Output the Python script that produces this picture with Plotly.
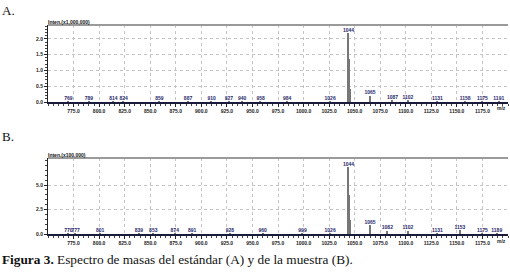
import plotly.graph_objects as go

# ---------------- data ----------------
# Panel A (standard), intensity in units of 1,000,000
a_mz = [770, 790, 814, 824, 859, 887, 910, 927, 940, 958, 984, 1026,
        1044, 1045, 1046, 1065, 1087, 1102, 1131, 1158, 1175, 1191]
a_int = [0.02, 0.02, 0.02, 0.02, 0.02, 0.02, 0.02, 0.02, 0.02, 0.02, 0.02, 0.02,
         2.18, 1.35, 0.42, 0.20, 0.06, 0.04, 0.02, 0.02, 0.02, 0.02]
a_lbl = ["769", "789", "814", "824", "859", "887", "910", "927", "940", "958", "984", "1026",
         "1044", "", "", "1065", "1087", "1102", "1131", "1158", "1175", "1191"]

# Panel B (sample), intensity in units of 100,000
b_mz = [770, 777, 801, 839, 853, 874, 891, 928, 960, 999, 1026,
        1044, 1045, 1046, 1065, 1082, 1102, 1131, 1153, 1175, 1189]
b_int = [0.1, 0.1, 0.1, 0.1, 0.1, 0.1, 0.1, 0.1, 0.1, 0.1, 0.1,
         6.8, 4.0, 1.4, 0.9, 0.35, 0.35, 0.1, 0.4, 0.1, 0.1]
b_lbl = ["770", "777", "801", "839", "853", "874", "891", "928", "960", "999", "1026",
         "1044", "", "", "1065", "1082", "1102", "1131", "1153", "1175", "1189"]

x_ticks = [775, 800, 825, 850, 875, 900, 925, 950, 975, 1000, 1025, 1050,
           1075, 1100, 1125, 1150, 1175]
x_tick_text = [f"{v:.1f}" for v in x_ticks]
a_yticks = [0.0, 0.5, 1.0, 1.5, 2.0]
b_yticks = [0.0, 2.5, 5.0]

NAVY = "#28286a"
PEAK = "#777777"

fig = go.Figure()

def add_panel(mz, inten, lbl, xa, ya):
    fig.add_trace(go.Bar(x=mz, y=inten, width=1.3, marker=dict(color=PEAK, line=dict(width=0)),
                         xaxis=xa, yaxis=ya, showlegend=False))
    fig.add_trace(go.Scatter(x=mz, y=inten, mode="text", text=lbl, textposition="top center",
                             textfont=dict(size=5, color=NAVY, family="Liberation Sans", weight="bold"),
                             xaxis=xa, yaxis=ya, showlegend=False, cliponaxis=False))

add_panel(a_mz, a_int, a_lbl, "x", "y")
add_panel(b_mz, b_int, b_lbl, "x2", "y2")

W, H = 510, 275
def px(x): return x / W
def py(y): return 1 - y / H

xcommon = dict(range=[750, 1200], tickvals=x_ticks, ticktext=x_tick_text, automargin=False,
               tickfont=dict(size=5, color="#222", family="Liberation Sans", weight="bold"),
               showgrid=True, gridcolor="#c4c4c4", griddash="dot", gridwidth=1,
               showline=True, linecolor="#1a1a3a", linewidth=1.5,
               ticks="outside", ticklen=3, tickcolor="#222",
               minor=dict(ticks="outside", ticklen=2, dtick=5, tickcolor="#444"),
               zeroline=False, fixedrange=True)
ycommon = dict(tickfont=dict(size=5, color="#222", family="Liberation Sans", weight="bold"),
               automargin=False,
               showgrid=True, gridcolor="#c4c4c4", griddash="dot", gridwidth=1,
               showline=True, linecolor="#222", linewidth=1,
               ticks="outside", ticklen=3, tickcolor="#222",
               zeroline=False, fixedrange=True)

fig.update_layout(
    width=W, height=H, margin=dict(l=0, r=0, t=0, b=0, autoexpand=False),
    paper_bgcolor="white", plot_bgcolor="white", bargap=0,
    xaxis=dict(domain=[px(48), px(508)], anchor="y", **xcommon),
    yaxis=dict(domain=[py(102), py(25)], anchor="x", range=[0, 2.44],
               tickvals=a_yticks, ticktext=[f"{v:.1f}" for v in a_yticks],
               minor=dict(ticks="outside", ticklen=2, dtick=0.1, tickcolor="#444"), **ycommon),
    xaxis2=dict(domain=[px(48), px(508)], anchor="y2", **xcommon),
    yaxis2=dict(domain=[py(234), py(158)], anchor="x2", range=[0, 7.76],
                tickvals=b_yticks, ticktext=[f"{v:.1f}" for v in b_yticks],
                minor=dict(ticks="outside", ticklen=2, dtick=0.5, tickcolor="#444"), **ycommon),
    shapes=[
        dict(type="line", xref="x domain", yref="y domain", x0=0, x1=1, y0=1, y1=1,
             line=dict(color="#9a9a9a", width=2)),
        dict(type="line", xref="x2 domain", yref="y2 domain", x0=0, x1=1, y0=1, y1=1,
             line=dict(color="#9a9a9a", width=2)),
    ],
)

annos = [
    dict(text="A.", x=0, y=py(10), xanchor="left", yanchor="middle",
         font=dict(size=13, family="Liberation Serif", color="#111")),
    dict(text="B.", x=0, y=py(136), xanchor="left", yanchor="middle",
         font=dict(size=13, family="Liberation Serif", color="#111")),
    dict(text="<b>Inten.(x1,000,000)</b>", x=px(46), y=py(22), xanchor="left", yanchor="middle",
         font=dict(size=5, family="Liberation Sans", color="#111")),
    dict(text="<b>Inten.(x100,000)</b>", x=px(46), y=py(155), xanchor="left", yanchor="middle",
         font=dict(size=5, family="Liberation Sans", color="#111")),
    dict(text="<b>m/z</b>", x=px(508), y=py(108), xanchor="right", yanchor="middle",
         font=dict(size=5, family="Liberation Sans", color="#222")),
    dict(text="<b>m/z</b>", x=px(508), y=py(241), xanchor="right", yanchor="middle",
         font=dict(size=5, family="Liberation Sans", color="#222")),
    dict(text="<b>Figura 3.</b> Espectro de masas del estándar (A) y de la muestra (B).",
         x=0, y=py(259), xanchor="left", yanchor="middle",
         font=dict(size=13.3, family="Liberation Serif", color="#111")),
]
for a in annos:
    a.update(xref="paper", yref="paper", showarrow=False)
fig.update_layout(annotations=annos)

fig.write_html("out.html", config={"displayModeBar": False},
               post_script="document.body.style.margin='0';document.body.style.overflow='hidden';")
